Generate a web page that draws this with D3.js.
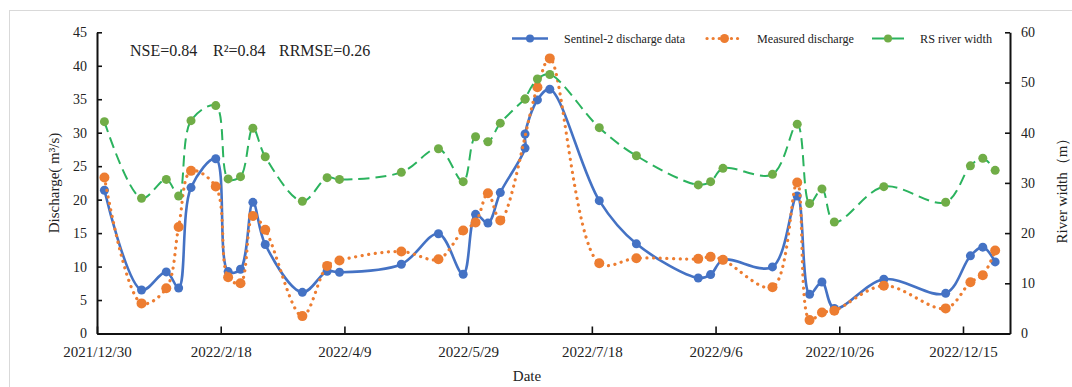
<!DOCTYPE html>
<html>
<head>
<meta charset="utf-8">
<script src="https://cdn.jsdelivr.net/npm/d3@7"></script>
<style>
  html, body { margin: 0; padding: 0; background: #fff; }
  svg { display: block; }
  text { font-family: "Liberation Serif", "DejaVu Serif", serif; fill: #222; }
</style>
</head>
<body>
<svg id="chart" width="1072" height="387"></svg>
<script>
// ---- data ----
const dates = ["2022/1/2","2022/1/17","2022/1/27","2022/2/1","2022/2/6","2022/2/16","2022/2/21","2022/2/26",
  "2022/3/3","2022/3/8","2022/3/23","2022/4/2","2022/4/7","2022/5/2","2022/5/17","2022/5/27","2022/6/1",
  "2022/6/6","2022/6/11","2022/6/21","2022/6/21","2022/6/26","2022/7/1","2022/7/21","2022/8/5","2022/8/30",
  "2022/9/4","2022/9/9","2022/9/29","2022/10/9","2022/10/14","2022/10/19","2022/10/24","2022/11/13",
  "2022/12/8","2022/12/18","2022/12/23","2022/12/28"];
const sentinel = [21.4, 6.5, 9.2, 6.8, 21.8, 26.1, 9.25, 9.6, 19.6, 13.3, 6.15, 9.3, 9.15, 10.35, 14.9, 8.85,
  17.8, 16.5, 21.05, 27.7, 29.8, 34.9, 36.5, 19.85, 13.4, 8.3, 8.8, 11.0, 9.95, 20.55, 5.85, 7.7, 3.75, 8.1,
  6.0, 11.6, 12.9, 10.7];
const measured = [23.3, 4.5, 6.75, 15.9, 24.3, 21.95, 8.4, 7.5, 17.55, 15.5, 2.6, 10.1, 10.9, 12.25, 11.1, 15.4,
  16.6, 20.95, 16.9, null, null, 36.8, 41.1, 10.5, 11.25, 11.15, 11.45, 11.0, 6.9, 22.55, 2.0, 3.15, 3.4, 7.15,
  3.75, 7.65, 8.7, 12.4];
const riverWidth = [42.2, 26.95, 30.7, 27.4, 42.4, 45.4, 30.8, 31.25, 40.9, 35.2, 26.35, 31.05, 30.7, 32.1, 36.8,
  30.25, 39.2, 38.2, 41.9, 46.7, 46.7, 50.7, 51.6, 41.0, 35.4, 29.6, 30.25, 32.9, 31.7, 41.7, 25.9, 28.8, 22.2,
  29.25, 26.15, 33.4, 34.9, 32.5];
const xTickLabels = ["2021/12/30","2022/2/18","2022/4/9","2022/5/29","2022/7/18","2022/9/6","2022/10/26","2022/12/15"];
const xDomain = ["2021/12/30", "2023/1/3"];
const yLeftTicks = [0, 5, 10, 15, 20, 25, 30, 35, 40, 45];
const yRightTicks = [0, 10, 20, 30, 40, 50, 60];
const seriesNames = ["Sentinel-2 discharge data", "Measured discharge", "RS river width"];

// ---- layout ----
const svg = d3.select("#chart");
const parse = d3.utcParse("%Y/%m/%d");
const L = 97, R = 1010, T = 32.3, B = 333.5;
const x = d3.scaleUtc().domain(xDomain.map(parse)).range([L, R]);
const yL = d3.scaleLinear().domain([0, 45]).range([B, T]);
const yR = d3.scaleLinear().domain([0, 60]).range([B, T]);

const BLUE = "#4472C4", ORANGE = "#ED7D31", GREEN_M = "#70AD47", GREEN_L = "#2BB35E";

// frame
svg.append("rect").attr("x", 9.5).attr("y", 10.5).attr("width", 1080).attr("height", 400)
  .attr("fill", "none").attr("stroke", "#d9d9d9").attr("stroke-width", 1);

// axes
function styleAxis(g, fs) {
  g.selectAll("path.domain").attr("stroke", "#111").attr("stroke-width", 2);
  g.selectAll(".tick line").attr("stroke", "#111").attr("stroke-width", 1.6);
  g.selectAll(".tick text").style("font-family", "'Liberation Serif', serif").style("font-size", fs + "px").attr("fill", "#222");
}
const gx = svg.append("g").attr("transform", `translate(0,${B})`)
  .call(d3.axisBottom(x).tickValues(xTickLabels.map(parse)).tickFormat((d, i) => xTickLabels[i])
    .tickSizeInner(-7).tickSizeOuter(0).tickPadding(13));
styleAxis(gx, 15);

const gl = svg.append("g").attr("transform", `translate(${L},0)`)
  .call(d3.axisLeft(yL).tickValues(yLeftTicks).tickSizeInner(-5).tickSizeOuter(0).tickPadding(10));
styleAxis(gl, 14);

const gr = svg.append("g").attr("transform", `translate(${R},0)`)
  .call(d3.axisRight(yR).tickValues(yRightTicks).tickSizeInner(-5).tickSizeOuter(0).tickPadding(11));
styleAxis(gr, 14);

// axis titles
svg.append("text").attr("transform", "translate(59,183) rotate(-90)").attr("text-anchor", "middle")
  .style("font-size", "15px").text("Discharge( m³/s)");
svg.append("text").attr("transform", "translate(1067,187) rotate(-90)").attr("text-anchor", "middle")
  .style("font-size", "15px").text("River width（m）");
svg.append("text").attr("x", 527).attr("y", 381).attr("text-anchor", "middle")
  .style("font-size", "15px").text("Date");

// annotation
const ann = [["NSE=0.84", 130], ["R²=0.84", 213], ["RRMSE=0.26", 279]];
ann.forEach(([t, px]) => svg.append("text").attr("x", px).attr("y", 55.5).style("font-size", "16px").text(t));

// series
const rows = dates.map((d, i) => ({ d: parse(d), s: sentinel[i], m: measured[i], w: riverWidth[i] }));
const mRows = rows.filter(r => r.m != null);
const curve = d3.curveCatmullRom.alpha(0.5);

const lineS = d3.line().x(r => x(r.d)).y(r => yL(r.s)).curve(curve);
const lineM = d3.line().x(r => x(r.d)).y(r => yL(r.m)).curve(curve);
const lineW = d3.line().x(r => x(r.d)).y(r => yR(r.w)).curve(curve);

svg.append("path").datum(rows).attr("d", lineS).attr("fill", "none").attr("stroke", BLUE).attr("stroke-width", 2.6);
svg.selectAll("circle.s").data(rows).join("circle").attr("class", "s")
  .attr("cx", r => x(r.d)).attr("cy", r => yL(r.s)).attr("r", 4.5).attr("fill", BLUE);

svg.append("path").datum(mRows).attr("d", lineM).attr("fill", "none").attr("stroke", ORANGE)
  .attr("stroke-width", 3.2).attr("stroke-linecap", "round").attr("stroke-dasharray", "0.1 6.5");
svg.selectAll("circle.m").data(mRows).join("circle").attr("class", "m")
  .attr("cx", r => x(r.d)).attr("cy", r => yL(r.m)).attr("r", 5).attr("fill", ORANGE);

svg.append("path").datum(rows).attr("d", lineW).attr("fill", "none").attr("stroke", GREEN_L)
  .attr("stroke-width", 2).attr("stroke-dasharray", "11 6");
svg.selectAll("circle.w").data(rows).join("circle").attr("class", "w")
  .attr("cx", r => x(r.d)).attr("cy", r => yR(r.w)).attr("r", 4.5).attr("fill", GREEN_M);

// legend
const legend = [
  { name: seriesNames[0], x1: 512, x2: 548, tx: 564, tw: 121, color: BLUE, mc: BLUE, dash: null, w: 2.5, r: 4 },
  { name: seriesNames[1], x1: 707, x2: 742, tx: 757, tw: 97, color: ORANGE, mc: ORANGE, dash: "0.1 6", w: 3.2, r: 4.5 },
  { name: seriesNames[2], x1: 872, x2: 904, tx: 920, tw: 72, color: GREEN_L, mc: GREEN_M, dash: null, w: 2, r: 4 }
];
const ly = 38.5;
legend.forEach(l => {
  const ln = svg.append("line").attr("x1", l.x1).attr("x2", l.x2).attr("y1", ly).attr("y2", ly)
    .attr("stroke", l.color).attr("stroke-width", l.w).attr("stroke-linecap", l.dash ? "round" : "butt");
  if (l.dash) ln.attr("stroke-dasharray", l.dash);
  svg.append("circle").attr("cx", (l.x1 + l.x2) / 2).attr("cy", ly).attr("r", l.r).attr("fill", l.mc);
  svg.append("text").attr("x", l.tx).attr("y", ly + 4).style("font-size", "12px")
    .attr("textLength", l.tw).attr("lengthAdjust", "spacingAndGlyphs").text(l.name);
});
</script>
</body>
</html>
